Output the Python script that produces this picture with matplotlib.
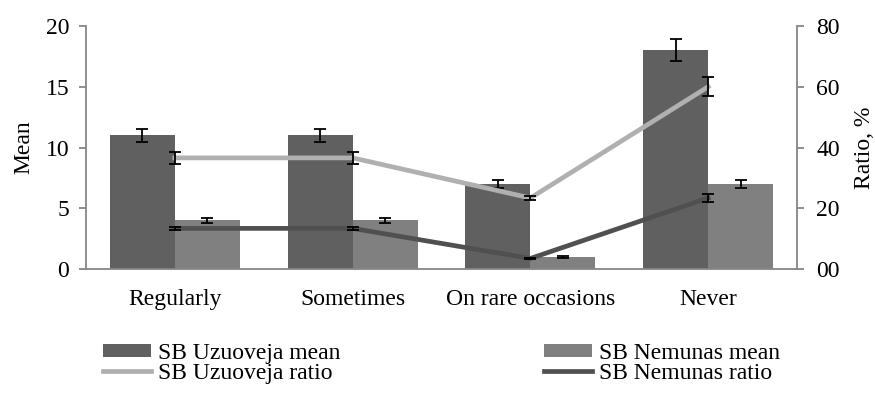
import numpy as np
import matplotlib
matplotlib.use("Agg")
import matplotlib.pyplot as plt
from matplotlib.ticker import FuncFormatter

# data
categories = ["Regularly", "Sometimes", "On rare occasions", "Never"]
uz_mean = [11, 11, 7, 18]
uz_mean_err = [0.53, 0.53, 0.33, 0.9]
ne_mean = [4, 4, 1, 7]
ne_mean_err = [0.2, 0.2, 0.05, 0.33]
uz_ratio = [36.6, 36.6, 23.4, 60.0]
uz_ratio_err = [1.9, 1.9, 0.8, 3.1]
ne_ratio = [13.4, 13.4, 3.5, 23.4]
ne_ratio_err = [0.5, 0.5, 0.3, 1.2]

plt.rcParams["font.family"] = ["Liberation Serif", "DejaVu Serif"]
plt.rcParams["font.size"] = 17

axis_grey = "#868686"
c_uz_bar = "#606060"
c_ne_bar = "#808080"
c_uz_line = "#b0b0b0"
c_ne_line = "#505050"

fig = plt.figure(figsize=(8.75, 3.94), dpi=100)
ax = fig.add_axes([0.0983, 0.317, 0.8126, 0.617])
ax2 = ax.twinx()

x = np.arange(len(categories))
w = 0.366

ax.bar(x - w / 2, uz_mean, w, color=c_uz_bar, label="SB Uzuoveja mean", zorder=2)
ax.bar(x + w / 2, ne_mean, w, color=c_ne_bar, label="SB Nemunas mean", zorder=2)
ax.errorbar(x - w / 2, uz_mean, yerr=uz_mean_err, fmt="none", ecolor="black",
            elinewidth=1.3, capsize=4.5, capthick=1.3, zorder=3)
ax.errorbar(x + w / 2, ne_mean, yerr=ne_mean_err, fmt="none", ecolor="black",
            elinewidth=1.3, capsize=4.5, capthick=1.3, zorder=3)

ax2.plot(x, uz_ratio, color=c_uz_line, lw=3.4, label="SB Uzuoveja ratio", zorder=2)
ax2.plot(x, ne_ratio, color=c_ne_line, lw=3.4, label="SB Nemunas ratio", zorder=2)
ax2.errorbar(x, uz_ratio, yerr=uz_ratio_err, fmt="none", ecolor="black",
             elinewidth=1.3, capsize=4.5, capthick=1.3, zorder=3)
ax2.errorbar(x, ne_ratio, yerr=ne_ratio_err, fmt="none", ecolor="black",
             elinewidth=1.3, capsize=4.5, capthick=1.3, zorder=3)

ax.set_xlim(-0.5, len(categories) - 0.5)
ax.set_ylim(0, 20)
ax.set_yticks([0, 5, 10, 15, 20])
ax2.set_ylim(0, 80)
ax2.set_yticks([0, 20, 40, 60, 80])
ax2.yaxis.set_major_formatter(FuncFormatter(lambda v, p: "%02d" % v))

ax.set_xticks(x)
ax.set_xticklabels(categories)
ax.tick_params(axis="x", length=0, pad=14)
ax.tick_params(axis="y", length=5, width=1.3, color=axis_grey, pad=7)
ax2.tick_params(axis="y", length=5, width=1.3, color=axis_grey, pad=9)

for a in (ax, ax2):
    a.spines["top"].set_visible(False)
    for s in ("left", "right", "bottom"):
        a.spines[s].set_color(axis_grey)
        a.spines[s].set_linewidth(1.3)
ax.spines["right"].set_visible(False)
ax2.spines["left"].set_visible(False)
ax2.spines["bottom"].set_visible(False)

ax.set_ylabel("Mean", labelpad=8)
ax2.set_ylabel("Ratio, %", labelpad=10)

h1, l1 = ax.get_legend_handles_labels()
h2, l2 = ax2.get_legend_handles_labels()
handles = [h1[0], h2[0], h1[1], h2[1]]
labels = [l1[0], l2[0], l1[1], l2[1]]
fig.legend(handles, labels, ncol=2, loc="upper left", bbox_to_anchor=(0.1177, 0.13),
           frameon=False, handlelength=2.05, handleheight=0.45, handletextpad=0.3,
           labelspacing=-0.05, columnspacing=8.6, borderpad=0, borderaxespad=0)

fig.savefig("out.png", dpi=100)
